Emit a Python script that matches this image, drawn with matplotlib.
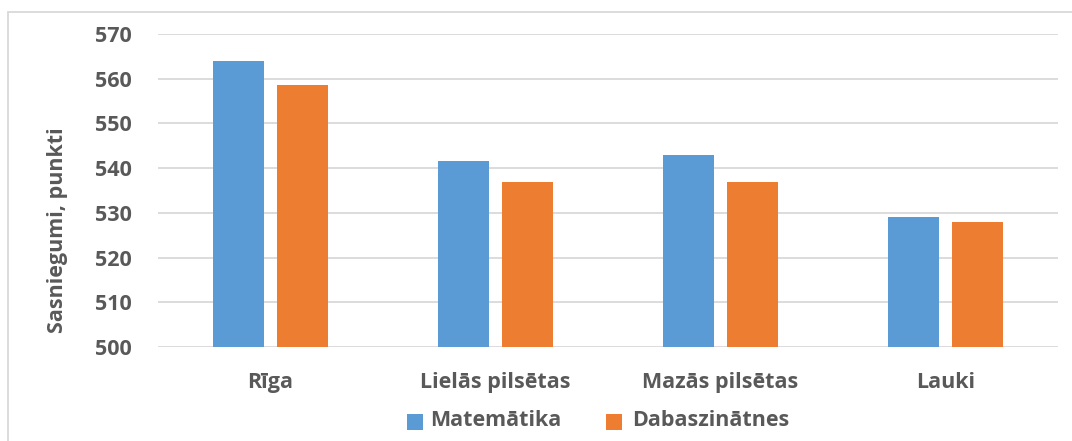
import matplotlib
matplotlib.use("Agg")
import matplotlib.pyplot as plt
import numpy as np
from matplotlib.patches import Rectangle

categories = ["Rīga", "Lielās pilsētas", "Mazās pilsētas", "Lauki"]
series_names = ["Matemātika", "Dabaszinātnes"]
matematika = [564, 541.5, 543, 529]
dabaszinatnes = [558.5, 537, 537, 528]
yticks = [500, 510, 520, 530, 540, 550, 560, 570]

BLUE = "#5b9bd5"
ORANGE = "#ed7d31"
TXT = "#595959"
GRID = "#d9d9d9"
FONT = ["Open Sans", "DejaVu Sans"]
FS = 15.5

W, H = 1072, 441
fig = plt.figure(figsize=(W / 100, H / 100), dpi=100)
plt.rcParams['font.family'] = FONT

# outer frame
fig.patches.append(Rectangle((8 / W, -0.1), 1.2, 1 - 12 / H + 0.1, transform=fig.transFigure,
                             fill=False, edgecolor=GRID, linewidth=1.3))

ax = fig.add_axes([158 / W, 1 - 347 / H, 900 / W, (347 - 34) / H])
x = np.arange(len(categories))
off = 0.142
bw = 0.227
ax.bar(x - off, np.array(matematika) - 500, bw, bottom=500, color=BLUE, zorder=3, label=series_names[0])
ax.bar(x + off, np.array(dabaszinatnes) - 500, bw, bottom=500, color=ORANGE, zorder=3, label=series_names[1])

ax.set_xlim(-0.5, len(categories) - 0.5)
ax.set_ylim(500, 570)
ax.set_yticks(yticks)
ax.set_yticklabels([str(v) for v in yticks])
ax.set_xticks(x)
ax.set_xticklabels(categories)
ax.grid(axis="y", color=GRID, linewidth=1.3, zorder=0)
for s in ax.spines.values():
    s.set_visible(False)
ax.tick_params(axis="both", length=0, labelsize=FS, colors=TXT)
ax.tick_params(axis="y", pad=19)
ax.tick_params(axis="x", pad=18)
for lab in ax.get_xticklabels() + ax.get_yticklabels():
    lab.set_fontweight("bold")
    lab.set_color(TXT)

fig.text(57 / W, 1 - 230 / H, "Sasniegumi, punkti", rotation=90, ha="center", va="center",
         fontsize=FS, fontweight="bold", color=TXT)

# legend (manual placement to match reference)
leg_items = [(series_names[0], BLUE, 407, 430), (series_names[1], ORANGE, 606, 632)]
for name, col, sx, tx in leg_items:
    fig.patches.append(Rectangle((sx / W, 1 - 430 / H), 16 / W, 16 / H, transform=fig.transFigure,
                                 facecolor=col, edgecolor="none"))
    fig.text(tx / W, 1 - 421 / H, name, ha="left", va="center", fontsize=FS,
             fontweight="bold", color=TXT)

fig.savefig("out.png", dpi=100)
